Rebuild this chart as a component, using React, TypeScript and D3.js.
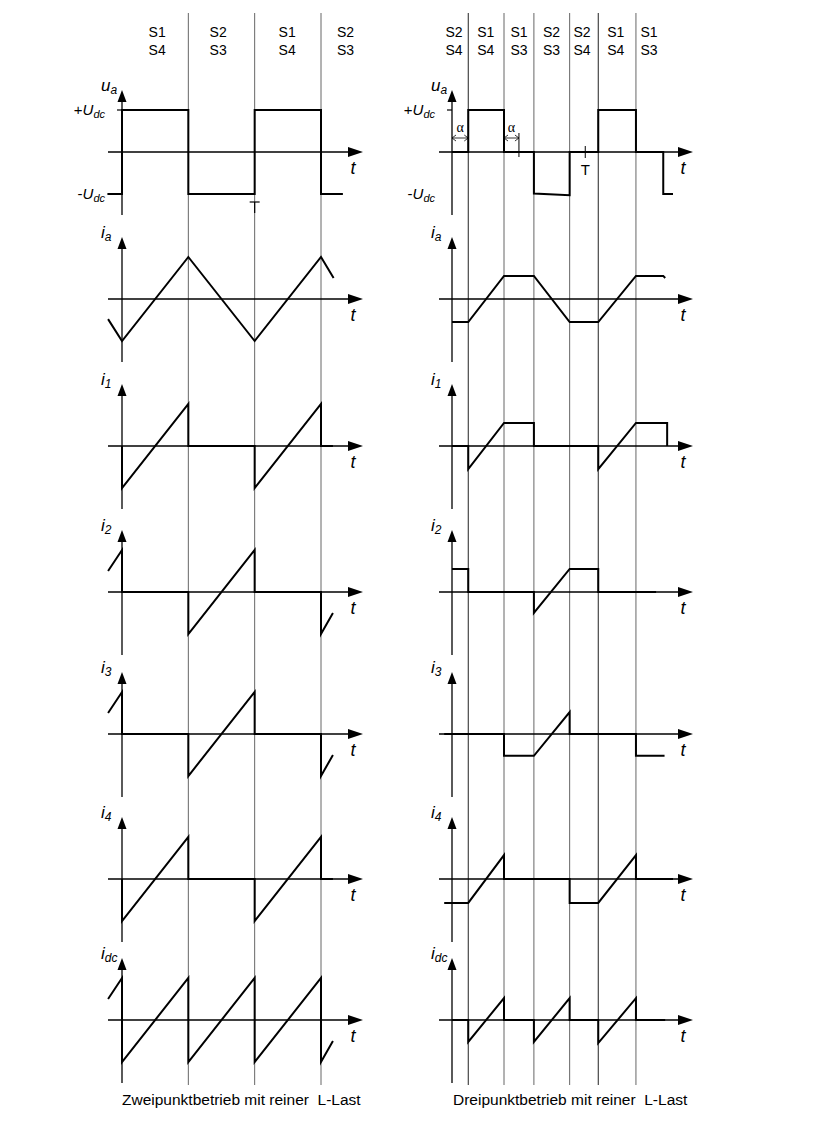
import React from 'react';
import * as d3 from 'd3';

type P = [number, number];

// ---------- data ----------
const leftSwitchTop = ['S1', 'S2', 'S1', 'S2'];
const leftSwitchBottom = ['S4', 'S3', 'S4', 'S3'];
const leftLabelT = [0.53, 1.45, 2.49, 3.37];
const leftBoundaries = [1, 2, 3];

const rightSwitchTop = ['S2', 'S1', 'S1', 'S2', 'S2', 'S1', 'S1'];
const rightSwitchBottom = ['S4', 'S4', 'S3', 'S3', 'S4', 'S4', 'S3'];
const rightLabelT = [0.03, 0.52, 1.03, 1.53, 2.0, 2.52, 3.03];
const rightBoundaries = [0.25, 0.8, 1.26, 1.81, 2.25, 2.83];
const rightDarkBoundaries = [0.25, 2.25];

const signalNames = ['u', 'i', 'i', 'i', 'i', 'i', 'i'];
const signalSubs = ['a', 'a', '1', '2', '3', '4', 'dc'];

const leftUa: P[] = [[-0.22, -1], [0, -1], [0, 1], [1, 1], [1, -1], [2, -1], [2, 1], [3, 1], [3, -1], [3.33, -1]];
const leftIa: P[] = [[-0.21, -0.48], [0, -1], [1, 1], [2, -1], [3, 1], [3.19, 0.5]];
const leftI1: P[] = [[0, 0], [0, -1], [1, 1], [1, 0], [2, 0], [2, -1], [3, 1], [3, 0], [3.18, 0]];
const leftI2: P[] = [[-0.21, 0.5], [0, 1], [0, 0], [1, 0], [1, -1], [2, 1], [2, 0], [3, 0], [3, -1], [3.18, -0.5]];
const leftI3: P[] = [[-0.21, 0.5], [0, 1], [0, 0], [1, 0], [1, -1], [2, 1], [2, 0], [3, 0], [3, -1], [3.18, -0.5]];
const leftI4: P[] = [[0, 0], [0, -1], [1, 1], [1, 0], [2, 0], [2, -1], [3, 1], [3, 0], [3.18, 0]];
const leftIdc: P[] = [[-0.21, 0.5], [0, 1], [0, -1], [1, 1], [1, -1], [2, 1], [2, -1], [3, 1], [3, -1], [3.18, -0.5]];

const rightUa: P[] = [[0, 0], [0.25, 0], [0.25, 1], [0.8, 1], [0.8, 0], [1.26, 0], [1.26, -0.99], [1.81, -1.03], [1.81, 0], [2.25, 0], [2.25, 1], [2.83, 1], [2.83, 0], [3.25, 0], [3.25, -1], [3.4, -1]];
const rightIa: P[] = [[0, -0.55], [0.25, -0.55], [0.8, 0.55], [1.26, 0.55], [1.81, -0.55], [2.25, -0.55], [2.83, 0.55], [3.25, 0.55], [3.28, 0.5]];
const rightI1: P[] = [[0, 0], [0.25, 0], [0.25, -0.55], [0.8, 0.55], [1.26, 0.55], [1.26, 0], [2.25, 0], [2.25, -0.55], [2.83, 0.55], [3.31, 0.55], [3.31, 0]];
const rightI2: P[] = [[0, 0.55], [0.25, 0.55], [0.25, 0], [1.26, 0], [1.26, -0.5], [1.81, 0.55], [2.25, 0.55], [2.25, 0], [3.14, 0]];
const rightI3: P[] = [[-0.12, 0], [0.8, 0], [0.8, -0.52], [1.26, -0.52], [1.81, 0.52], [1.81, 0], [2.83, 0], [2.83, -0.52], [3.27, -0.52]];
const rightI4: P[] = [[-0.12, -0.57], [0.25, -0.57], [0.8, 0.57], [0.8, 0], [1.81, 0], [1.81, -0.57], [2.25, -0.57], [2.83, 0.57], [2.83, 0], [3.4, 0]];
const rightIdc: P[] = [[0, 0], [0.25, 0], [0.25, -0.52], [0.8, 0.52], [0.8, 0], [1.26, 0], [1.26, -0.52], [1.81, 0.52], [1.81, 0], [2.25, 0], [2.25, -0.55], [2.83, 0.52], [2.83, 0], [3.28, 0]];

const leftSeries = [leftUa, leftIa, leftI1, leftI2, leftI3, leftI4, leftIdc];
const rightSeries = [rightUa, rightIa, rightI1, rightI2, rightI3, rightI4, rightIdc];

const captions = ['Zweipunktbetrieb mit reiner  L-Last', 'Dreipunktbetrieb mit reiner  L-Last'];

// ---------- layout ----------
const W = 822;
const H = 1121;
const panelZero = [152, 299, 446, 592, 734, 879, 1020];
const AMP = 42;
const FONT = "'Liberation Sans', Arial, sans-serif";

const xL = d3.scaleLinear().domain([0, 3]).range([122, 321]);
const xR = d3.scaleLinear().domain([0, 1]).range([452, 517]);

function yScale(zero: number) {
  return d3.scaleLinear().domain([-1, 1]).range([zero + AMP, zero - AMP]);
}

function Panel({ x, zero, series, name, sub, axisStart, axisEnd }: any) {
  const y = yScale(zero);
  const ax = x(0);
  const line = d3.line<P>().x(d => x(d[0])).y(d => y(d[1]));
  const tip = axisEnd;
  return (
    <g>
      <line x1={axisStart} x2={tip - 12} y1={zero} y2={zero} stroke="#000" strokeWidth={1.3} />
      <path d={`M${tip},${zero} L${tip - 15},${zero - 5} L${tip - 15},${zero + 5} Z`} fill="#000" />
      <line x1={ax} x2={ax} y1={zero + 63} y2={zero - 52} stroke="#000" strokeWidth={1.3} />
      <path d={`M${ax},${zero - 62} L${ax - 4.5},${zero - 50} L${ax + 4.5},${zero - 50} Z`} fill="#000" />
      <text x={ax - 21} y={zero - 61} fontFamily={FONT} fontStyle="italic" fontSize={17}>
        {name}
        <tspan fontSize={12} dy={3}>{sub}</tspan>
      </text>
      <text x={tip - 10} y={zero + 22} fontFamily={FONT} fontStyle="italic" fontSize={18} textAnchor="middle">t</text>
      <path d={line(series) || ''} fill="none" stroke="#000" strokeWidth={2} strokeLinejoin="miter" />
    </g>
  );
}

function UdcLabels({ x, zero }: any) {
  const y = yScale(zero);
  const ax = x(0);
  return (
    <g fontFamily={FONT} fontSize={15}>
      <text x={ax - 17} y={y(1) + 5} textAnchor="end">
        +<tspan fontStyle="italic">U</tspan><tspan fontSize={11} dy={3} fontStyle="italic">dc</tspan>
      </text>
      <text x={ax - 17} y={y(-1) + 5} textAnchor="end">
        -<tspan fontStyle="italic">U</tspan><tspan fontSize={11} dy={3} fontStyle="italic">dc</tspan>
      </text>
      <line x1={ax - 5} x2={ax} y1={y(1)} y2={y(1)} stroke="#000" strokeWidth={1.2} />
    </g>
  );
}

function Alpha({ x1, x2, yy }: any) {
  return (
    <g>
      <line x1={x1} x2={x2} y1={yy} y2={yy} stroke="#000" strokeWidth={0.8} />
      <path d={`M${x1 + 4},${yy - 3} L${x1},${yy} L${x1 + 4},${yy + 3}`} fill="none" stroke="#000" strokeWidth={0.8} />
      <path d={`M${x2 - 4},${yy - 3} L${x2},${yy} L${x2 - 4},${yy + 3}`} fill="none" stroke="#000" strokeWidth={0.8} />
      <text x={(x1 + x2) / 2} y={yy - 6} textAnchor="middle" fontFamily="'Liberation Serif', serif" fontSize={14}>α</text>
    </g>
  );
}

export default function App() {
  const lineTop = 13;
  const lineBottom = 1085;
  return (
    <svg width={W} height={H} style={{ position: 'absolute', left: 0, top: 0, background: '#fff' }}>
      <rect width={W} height={H} fill="#fff" />
      {leftBoundaries.map((t, i) => (
        <line key={'lb' + i} x1={xL(t)} x2={xL(t)} y1={lineTop} y2={lineBottom} stroke="#666" strokeWidth={1} />
      ))}
      {rightBoundaries.map((t, i) => (
        <line key={'rb' + i} x1={xR(t)} x2={xR(t)} y1={lineTop} y2={lineBottom}
          stroke={rightDarkBoundaries.includes(t) ? '#222' : '#666'} strokeWidth={1} />
      ))}
      <g fontFamily={FONT} fontSize={14} textAnchor="middle">
        {leftLabelT.map((t, i) => (
          <g key={'ll' + i}>
            <text x={xL(t)} y={37}>{leftSwitchTop[i]}</text>
            <text x={xL(t)} y={55}>{leftSwitchBottom[i]}</text>
          </g>
        ))}
        {rightLabelT.map((t, i) => (
          <g key={'rl' + i}>
            <text x={xR(t)} y={37}>{rightSwitchTop[i]}</text>
            <text x={xR(t)} y={55}>{rightSwitchBottom[i]}</text>
          </g>
        ))}
      </g>
      {panelZero.map((z, i) => (
        <Panel key={'pl' + i} x={xL} zero={z} series={leftSeries[i]} name={signalNames[i]} sub={signalSubs[i]} axisStart={108} axisEnd={363} />
      ))}
      {panelZero.map((z, i) => (
        <Panel key={'pr' + i} x={xR} zero={z} series={rightSeries[i]} name={signalNames[i]} sub={signalSubs[i]} axisStart={439} axisEnd={693} />
      ))}
      <UdcLabels x={xL} zero={panelZero[0]} />
      <UdcLabels x={xR} zero={panelZero[0]} />
      <line x1={xL(2) - 5} x2={xL(2) + 5} y1={202} y2={202} stroke="#000" strokeWidth={1.2} />
      <line x1={xL(2)} x2={xL(2)} y1={202} y2={213} stroke="#000" strokeWidth={1.2} />
      <Alpha x1={xR(0)} x2={xR(0.25)} yy={138} />
      <Alpha x1={xR(0.8)} x2={xR(1.03)} yy={138} />
      <line x1={xR(1.03)} x2={xR(1.03)} y1={133} y2={157} stroke="#000" strokeWidth={1} />
      <line x1={xR(2.05)} x2={xR(2.05)} y1={146} y2={158} stroke="#000" strokeWidth={1} />
      <text x={xR(2.05)} y={175} textAnchor="middle" fontFamily={FONT} fontSize={15}>T</text>
      <text x={122} y={1105} fontFamily={FONT} fontSize={15.5} style={{ whiteSpace: 'pre' }}>{captions[0]}</text>
      <text x={453} y={1105} fontFamily={FONT} fontSize={15.5} style={{ whiteSpace: 'pre' }}>{captions[1]}</text>
    </svg>
  );
}
